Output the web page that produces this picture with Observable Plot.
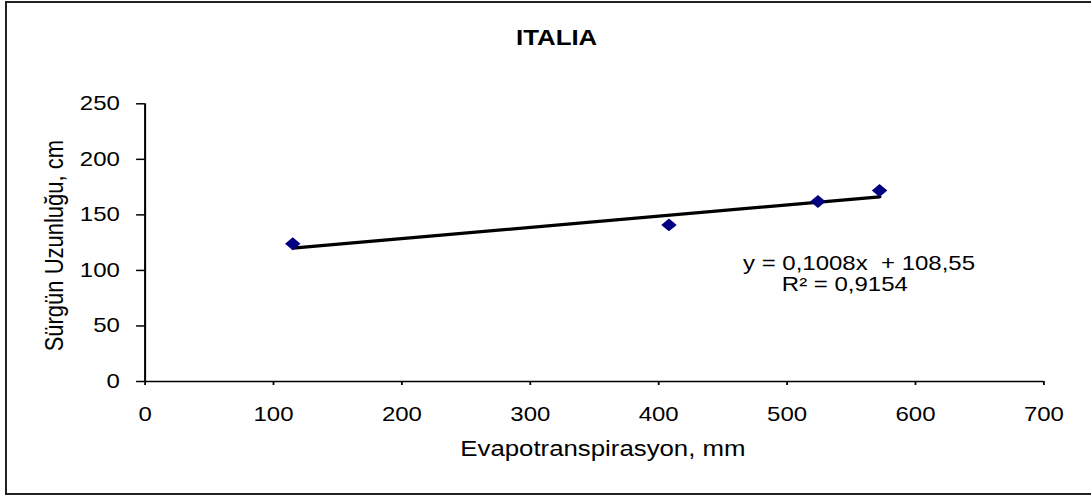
<!DOCTYPE html>
<html><head><meta charset="utf-8">
<script src="https://cdn.jsdelivr.net/npm/d3@7"></script>
<script src="https://cdn.jsdelivr.net/npm/@observablehq/plot@0.6"></script>
<style>
html,body{margin:0;padding:0;background:#fff;}
#wrap{position:relative;width:1091px;height:496px;overflow:hidden;}
#border{position:absolute;left:5px;top:1px;width:1100px;height:494px;box-sizing:border-box;border:2px solid #222;}
#chart{position:absolute;left:0;top:0;}
</style></head><body>
<div id="wrap"><div id="chart"></div><div id="border"></div></div>
<script>
const title = "ITALIA";
const xLabel = "Evapotranspirasyon, mm";
const yLabel = "Sürgün Uzunluğu, cm";
const evapo = [115, 408, 524, 572];
const shoot = [124, 141, 162, 172];
const xTicks = [0, 100, 200, 300, 400, 500, 600, 700];
const yTicks = [0, 50, 100, 150, 200, 250];
const slope = 0.1008;
const intercept = 108.55;
const eqText = ["y = 0,1008x  + 108,55", "R² = 0,9154"];
const eqX = [556, 545];
const eqY = [113.5, 94];

const S = 1.2;            // horizontal stretch of the reference
const W = 1091, H = 496;
const W0 = W / S;

const data = evapo.map((x, i) => ({x, y: shoot[i]}));
const xr = d3.extent(evapo);
const fit = xr.map(x => ({x, y: intercept + slope * x}));
const eq = eqText.map((t, i) => ({x: eqX[i], y: eqY[i], t}));

const mL = 144.5 / S, mR = W0 - 1043.3 / S, mT = 103.3, mB = H - 381;

const plot = Plot.plot({
  width: W0, height: H,
  marginLeft: mL, marginRight: mR, marginTop: mT, marginBottom: mB,
  x: {domain: [0, 700]},
  y: {domain: [0, 250]},
  style: {fontFamily: "'Liberation Sans', Arial, sans-serif", fontSize: "20px", color: "#000", background: "transparent", overflow: "visible", whiteSpace: "pre"},
  marks: [
    Plot.axisX({ticks: xTicks, tickSize: 4, tickPadding: 21.7, tickFormat: d => String(d), fontSize: 20, label: null, strokeWidth: 1.5}),
    Plot.axisY({ticks: yTicks, tickSize: 7, tickPadding: 14, tickFormat: d => String(d), fontSize: 20, label: null, strokeWidth: 1.5}),
    Plot.ruleY([0], {x1: 0, x2: 700, stroke: "#000", strokeWidth: 1.7}),
    Plot.ruleX([0], {y1: 0, y2: 250, stroke: "#000", strokeWidth: 1.7}),
    Plot.line(fit, {x: "x", y: "y", stroke: "#000", strokeWidth: 3.2}),
    Plot.dot(data, {x: "x", y: "y", symbol: "diamond2", r: 5.8, fill: "#000080", stroke: "none"}),
    Plot.text(eq, {x: "x", y: "y", text: "t", lineAnchor: "top", textAnchor: "middle", fontSize: 20, fill: "#000"}),
    Plot.text([title], {frameAnchor: "top-left", dx: 556 / S - mL, dy: 29.5 - mT, lineAnchor: "top", textAnchor: "middle", fontSize: 21.5, fontWeight: "bold", fill: "#000"}),
    Plot.text([xLabel], {frameAnchor: "bottom", dx: 7, dy: 59, lineAnchor: "top", textAnchor: "middle", fontSize: 21.5, fill: "#000"}),
    Plot.text([yLabel], {frameAnchor: "left", dx: 45 - mL, dy: 3, rotate: -90, lineAnchor: "middle", textAnchor: "middle", fontSize: 22, fill: "#000"})
  ]
});
plot.setAttribute("width", W);
plot.setAttribute("height", H);
plot.setAttribute("viewBox", `0 0 ${W0} ${H}`);
plot.setAttribute("preserveAspectRatio", "none");
plot.style.width = W + "px";
plot.style.height = H + "px";
plot.style.maxWidth = "none";
document.getElementById("chart").appendChild(plot);
</script>
</body></html>
